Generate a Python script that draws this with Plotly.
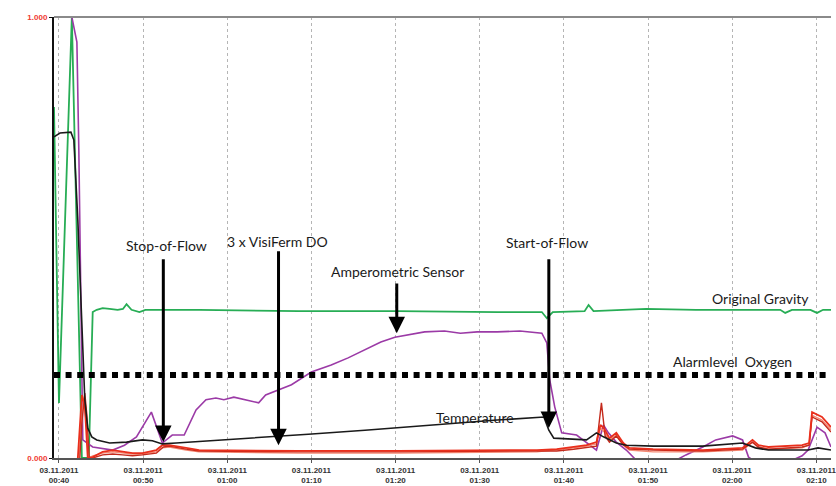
import pandas as pd
import plotly.graph_objects as go

BASE = pd.Timestamp("2011-11-03 00:40:00")

# ---- data (time in minutes after 00:40, value on 0..1 scale) ----
gravity_t = [-0.59, 0.0, 1.53, 2.72, 3.54, 4.01, 4.49, 5.19, 6.02, 6.97, 7.6, 8.03, 8.62, 9.56, 10.27,
             16.65, 28.45, 40.26, 52.07, 57.38, 57.97, 58.68, 62.46, 62.93, 63.52, 69.78, 75.68,
             85.71, 86.30, 87.1, 89.3, 90.08, 90.8, 91.74]
gravity_v = [0.796, 0.125, 1.0, 0.0, 0.0, 0.331, 0.336, 0.340, 0.338, 0.336, 0.338, 0.349, 0.336, 0.331, 0.336,
             0.336, 0.333, 0.333, 0.331, 0.331, 0.317, 0.331, 0.333, 0.347, 0.333, 0.338, 0.336,
             0.336, 0.329, 0.336, 0.336, 0.329, 0.336, 0.336]

amp_t = [1.53, 2.13, 2.36, 2.83, 4.01, 6.38, 7.79, 9.21, 10.98, 12.28, 13.46, 14.88, 16.29, 17.47, 18.65,
         19.60, 20.78, 22.20, 23.73, 24.56, 26.09, 27.63, 29.99, 32.35, 34.36, 36.36, 38.25, 39.91,
         41.44, 43.45, 45.81, 47.70, 49.70, 52.07, 54.78, 57.38, 57.97, 58.32, 58.91, 59.74, 61.51,
         62.69, 63.87, 64.70, 65.29, 66.23, 67.41, 68.60, 70.96, 73.32, 74.50, 76.51, 78.04, 80.05,
         81.23, 81.94, 83.36, 86.66, 88.31, 89.02, 90.08, 91.03, 91.74]
amp_v = [1.0, 0.943, 0.698, 0.041, 0.025, 0.018, 0.029, 0.048, 0.104, 0.034, 0.052, 0.052, 0.109, 0.132, 0.136,
         0.132, 0.138, 0.132, 0.125, 0.143, 0.154, 0.166, 0.195, 0.211, 0.227, 0.245, 0.263, 0.274,
         0.279, 0.286, 0.288, 0.283, 0.286, 0.286, 0.288, 0.283, 0.261, 0.177, 0.116, 0.057, 0.052,
         0.036, 0.018, 0.075, 0.057, 0.036, 0.018, -0.005, -0.016, -0.005, 0.007, 0.025, 0.041, 0.050,
         0.041, 0.002, -0.016, -0.009, 0.005, 0.018, 0.070, 0.057, 0.025]

temp_t = [-0.59, 0.12, 1.42, 1.77, 2.24, 2.72, 3.07, 3.42, 3.90, 4.49, 6.02, 8.03, 9.92, 11.10, 12.28,
          13.93, 19.83, 29.63, 36.36, 44.16, 52.07, 57.62, 58.21, 58.80, 61.51, 62.69, 63.87, 64.70,
          66.23, 67.41, 70.60, 76.51, 81.23, 82.76, 84.30, 89.02, 90.20, 91.74]
temp_v = [0.728, 0.737, 0.739, 0.721, 0.540, 0.290, 0.132, 0.068, 0.048, 0.041, 0.034, 0.036, 0.041, 0.039, 0.032,
          0.034, 0.041, 0.054, 0.063, 0.075, 0.086, 0.093, 0.063, 0.045, 0.043, 0.041, 0.057, 0.048,
          0.034, 0.029, 0.027, 0.027, 0.034, 0.023, 0.018, 0.018, 0.023, 0.018]

do1_t = [2.24, 2.48, 2.72, 3.07, 3.42, 4.01, 5.19, 6.38, 7.56, 8.74, 9.92, 11.57, 12.28, 13.11, 15.11,
         16.65, 28.45, 40.26, 56.79, 59.15, 61.16, 62.69, 63.87, 64.34, 64.8, 65.41, 66.23, 67.06,
         67.77, 70.60, 76.51, 81.23, 82.41, 83.12, 84.30, 88.31, 89.14, 89.49, 90.67, 91.74]
do1_v = [0.0, 0.063, 0.143, 0.120, 0.0, 0.002, 0.014, 0.018, 0.014, 0.011, 0.011, 0.018, 0.029, 0.029, 0.023,
         0.018, 0.016, 0.016, 0.018, 0.020, 0.025, 0.029, 0.036, 0.075, 0.066, 0.045, 0.057, 0.034,
         0.023, 0.020, 0.018, 0.023, 0.041, 0.029, 0.025, 0.029, 0.034, 0.104, 0.093, 0.070]
do2_t = [2.48, 2.72, 3.07, 3.30, 3.60, 4.01, 5.19, 6.38, 7.56, 8.74, 9.92, 11.57, 12.40, 13.11, 15.11,
         16.65, 28.45, 40.26, 56.79, 59.15, 61.16, 62.69, 63.87, 64.46, 64.9, 65.41, 66.23, 67.06,
         67.77, 70.60, 76.51, 81.23, 82.41, 83.12, 84.30, 88.31, 89.14, 89.49, 90.67, 91.74]
do2_v = [0.0, 0.080, 0.147, 0.100, 0.0, 0.0, 0.007, 0.009, 0.007, 0.005, 0.007, 0.011, 0.025, 0.027, 0.020,
         0.016, 0.014, 0.014, 0.016, 0.016, 0.020, 0.023, 0.027, 0.125, 0.050, 0.036, 0.050, 0.030,
         0.020, 0.018, 0.016, 0.020, 0.036, 0.025, 0.020, 0.025, 0.029, 0.093, 0.082, 0.059]
do3_t = [2.36, 2.60, 2.90, 3.20, 3.50, 4.01, 5.19, 6.38, 7.56, 8.74, 9.92, 11.57, 12.28, 13.11, 15.11,
         16.65, 28.45, 40.26, 56.79, 59.15, 61.16, 62.69, 63.87, 64.34, 64.8, 65.41, 66.23, 67.06,
         67.77, 70.60, 76.51, 81.23, 82.41, 83.12, 84.30, 88.31, 89.14, 89.49, 90.67, 91.74]
do3_v = [0.0, 0.050, 0.130, 0.090, 0.0, 0.005, 0.011, 0.014, 0.011, 0.009, 0.009, 0.014, 0.023, 0.025, 0.018,
         0.014, 0.011, 0.011, 0.014, 0.018, 0.023, 0.027, 0.032, 0.068, 0.059, 0.041, 0.052, 0.029,
         0.018, 0.014, 0.014, 0.018, 0.036, 0.023, 0.020, 0.023, 0.030, 0.097, 0.086, 0.064]

alarm_level = 0.188

tick_minutes = [0, 10, 20, 30, 40, 50, 60, 70, 80, 90]
tick_labels = ["00:40", "00:50", "01:00", "01:10", "01:20", "01:30", "01:40", "01:50", "02:00", "02:10"]
tick_date = "03.11.2011"
y_ticks = [0, 1]
y_labels = ["0.000", "1.000"]
x_range_min = [-0.59, 91.74]


def T(mins):
    return [BASE + pd.Timedelta(minutes=m) for m in mins]


fig = go.Figure()

series = [
    ("Original Gravity", gravity_t, gravity_v, "#27ad55", 1.8),
    ("Amperometric Sensor", amp_t, amp_v, "#9b3aa6", 1.6),
    ("DO 3", do3_t, do3_v, "#f58a74", 1.4),
    ("DO 2", do2_t, do2_v, "#c42a1c", 1.4),
    ("DO 1", do1_t, do1_v, "#ea2f1c", 1.8),
    ("Temperature", temp_t, temp_v, "#1a1a1a", 1.6),
]
for name, t, v, col, w in series:
    fig.add_trace(go.Scatter(x=T(t), y=v, mode="lines", name=name,
                             line=dict(color=col, width=w), hoverinfo="skip"))

# alarm level
fig.add_shape(type="line", xref="paper", x0=0, x1=1, yref="y", y0=alarm_level, y1=alarm_level,
              line=dict(color="#000000", width=6, dash="6px,5.6px"), layer="above")
# top border
fig.add_shape(type="line", xref="paper", x0=0, x1=1, yref="paper", y0=1, y1=1,
              line=dict(color="#8a8a8a", width=2))

ann_font = dict(family="Lato, Open Sans, sans-serif", size=14, color="#1a1a1a")
labels = [
    ("Stop-of-Flow", 12.75, 0.483),
    ("3 x VisiFerm DO", 25.97, 0.490),
    ("Amperometric Sensor", 40.26, 0.422),
    ("Start-of-Flow", 57.97, 0.488),
    ("Temperature", 49.47, 0.091),
    ("Original Gravity", 83.35, 0.361),
    ("Alarmlevel  Oxygen", 80.05, 0.218),
]
for txt, t, v in labels:
    fig.add_annotation(x=T([t])[0], y=v, text=txt, showarrow=False, font=ann_font,
                       xanchor="center", yanchor="middle")

arrows = [
    (12.40, 0.036, 0.454),
    (26.09, 0.029, 0.472),
    (40.14, 0.283, 0.399),
    (58.21, 0.068, 0.454),
]
for t, tip, tail in arrows:
    tt = T([t])[0]
    fig.add_annotation(x=tt, y=tip, ax=tt, ay=tail, axref="x", ayref="y", xref="x", yref="y",
                       text="", showarrow=True, arrowhead=2, arrowsize=1.1, arrowwidth=3,
                       arrowcolor="#000000")

fig.update_layout(
    width=836, height=486,
    margin=dict(l=54, r=0, t=17, b=28),
    paper_bgcolor="white", plot_bgcolor="white",
    showlegend=False,
    xaxis=dict(
        type="date", range=T(x_range_min),
        tickvals=T(tick_minutes),
        ticktext=[f"<b>{tick_date}</b><br><b>{l}</b>" for l in tick_labels],
        tickfont=dict(family="Liberation Sans, Arial", size=8, color="#333333"),
        ticklabeloverflow="allow",
        showgrid=True, gridcolor="#b5b5b5", gridwidth=1, griddash="dot",
        showline=True, linecolor="#555555", linewidth=2,
        ticks="outside", ticklen=3, tickcolor="#555555",
        zeroline=False,
    ),
    yaxis=dict(
        range=[0, 1], tickvals=y_ticks,
        ticktext=[f"<b>{l}</b>" for l in y_labels],
        tickfont=dict(family="Liberation Sans, Arial", size=8, color="#f03a30"),
        showgrid=False, zeroline=False,
        showline=True, linecolor="#111111", linewidth=2,
        ticks="outside", ticklen=3, tickcolor="#111111",
    ),
)

fig.write_html("out.html", config={"displayModeBar": False},
               post_script="document.body.style.margin='0';document.body.style.overflow='hidden';")
